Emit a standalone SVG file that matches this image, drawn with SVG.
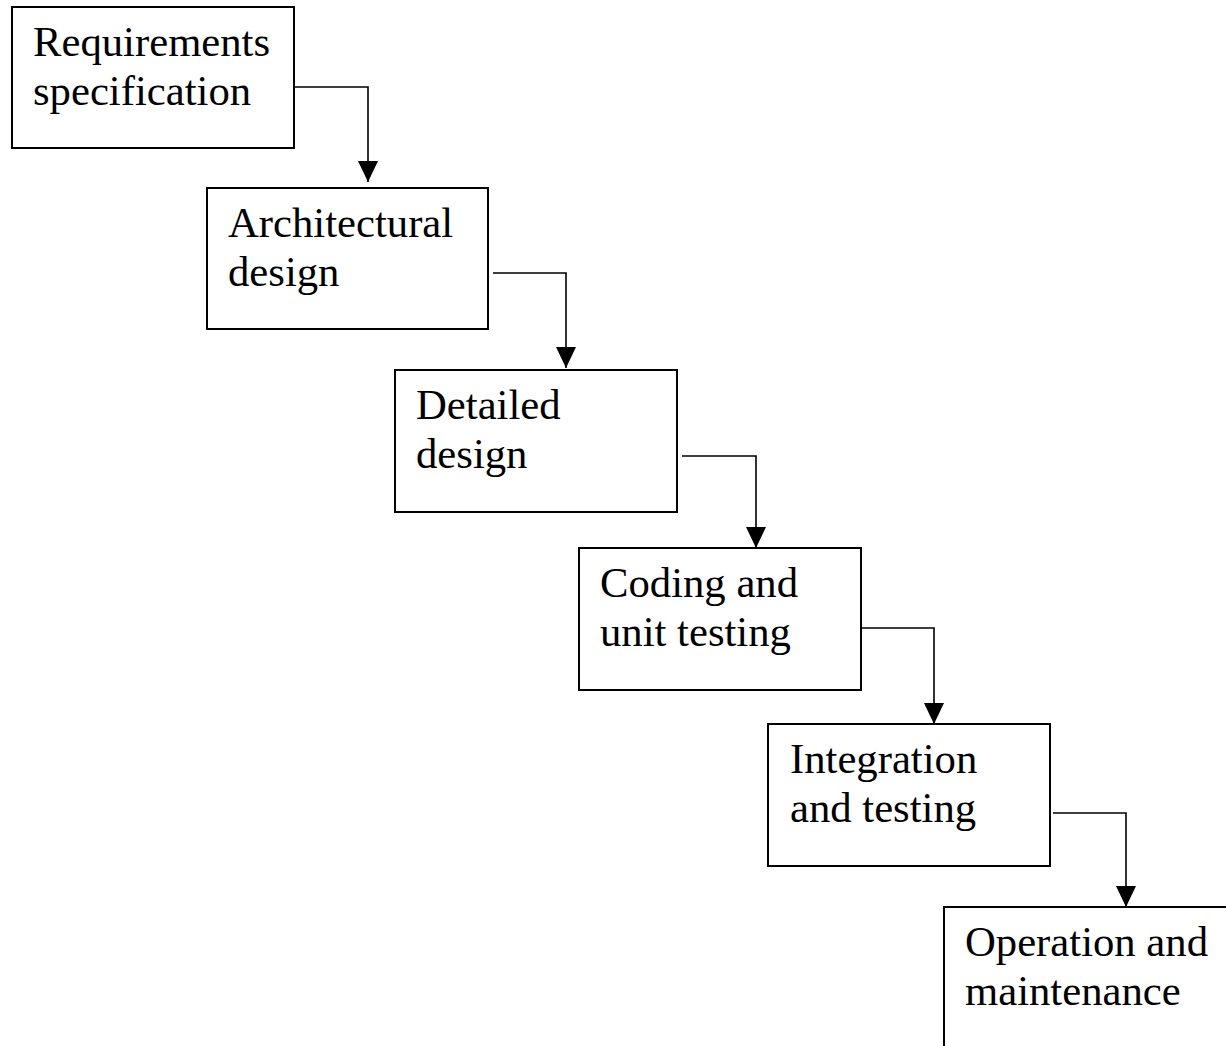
<svg xmlns="http://www.w3.org/2000/svg" width="1226" height="1046" viewBox="0 0 1226 1046">
<style>
.box{fill:#fff;stroke:#000;stroke-width:2}
.lbl{font-family:"Liberation Serif","Times New Roman",serif;font-size:42.7px;fill:#000}
.conn{fill:none;stroke:#000;stroke-width:1.6}
</style>
<defs>
<marker id="arr" markerUnits="userSpaceOnUse" markerWidth="22" markerHeight="22" refX="21" refY="10" orient="auto" viewBox="0 0 22 22">
<path d="M0,0 L21,10 L0,20 z" fill="#000"/>
</marker>
</defs>
<rect width="1226" height="1046" fill="#fff"/>
<g id="n1"><rect class="box" x="12" y="7" width="282" height="141"/><text class="lbl" x="33" y="56">Requirements</text><text class="lbl" x="33" y="105">specification</text></g>
<g id="n2"><rect class="box" x="207" y="188" width="281" height="141"/><text class="lbl" x="228" y="237">Architectural</text><text class="lbl" x="228" y="286">design</text></g>
<g id="n3"><rect class="box" x="395" y="370" width="282" height="142"/><text class="lbl" x="416" y="419">Detailed</text><text class="lbl" x="416" y="468">design</text></g>
<g id="n4"><rect class="box" x="579" y="548" width="282" height="142"/><text class="lbl" x="600" y="597">Coding and</text><text class="lbl" x="600" y="646">unit testing</text></g>
<g id="n5"><rect class="box" x="768" y="724" width="282" height="142"/><text class="lbl" x="790" y="773">Integration</text><text class="lbl" x="790" y="822">and testing</text></g>
<g id="n6"><rect class="box" x="944" y="907" width="300" height="160"/><text class="lbl" x="965" y="956">Operation and</text><text class="lbl" x="965" y="1005">maintenance</text></g>
<g id="connectors">
<path class="conn" d="M295,87 H368 V182" marker-end="url(#arr)"/>
<path class="conn" d="M493,273 H566 V368" marker-end="url(#arr)"/>
<path class="conn" d="M682,456 H756 V548" marker-end="url(#arr)"/>
<path class="conn" d="M862,628 H934 V724" marker-end="url(#arr)"/>
<path class="conn" d="M1053,813 H1126 V907" marker-end="url(#arr)"/>
</g>
</svg>
